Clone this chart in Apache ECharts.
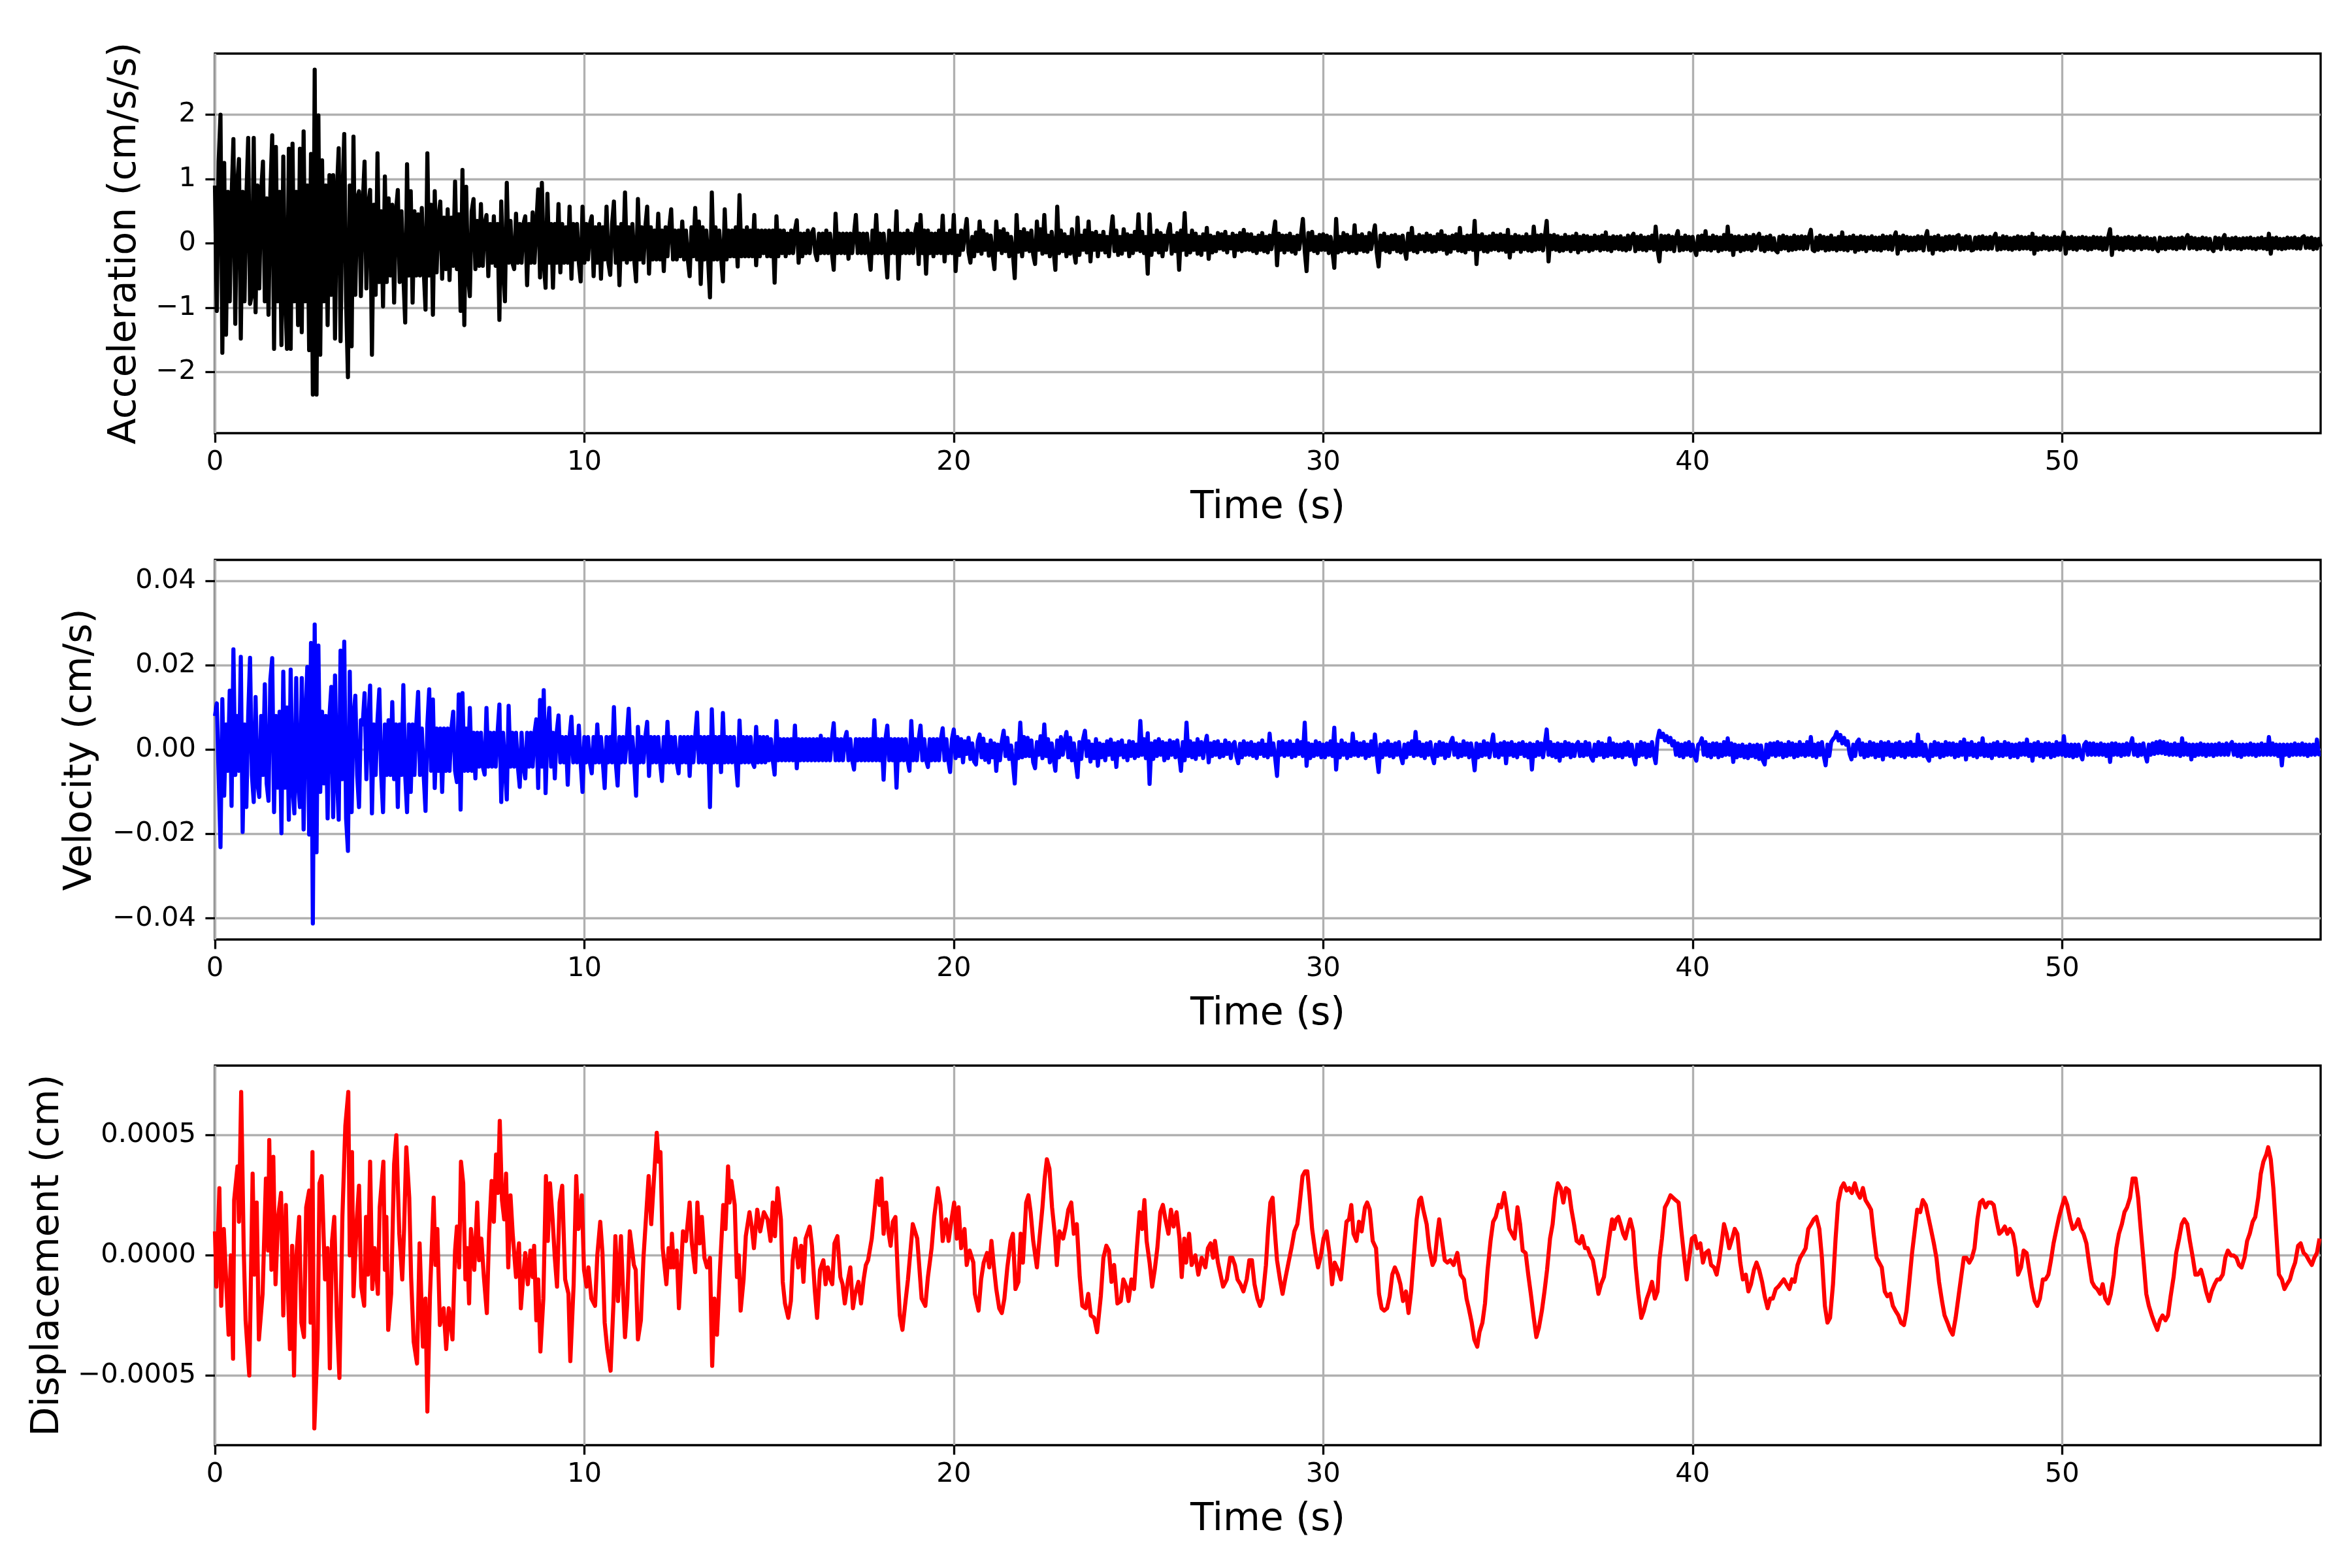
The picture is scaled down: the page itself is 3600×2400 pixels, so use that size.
<!DOCTYPE html>
<html><head><meta charset="utf-8">
<script src="https://cdn.jsdelivr.net/npm/echarts@6/dist/echarts.min.js"></script>
<style>html,body{margin:0;padding:0;background:#fff}#c{width:3600px;height:2400px}</style>
</head><body><div id="c"></div>
<script>
// ---- tick labels ----
const timeTicks = [0, 10, 20, 30, 40, 50];
const accTicks = [-2, -1, 0, 1, 2];
const velTicks = [-0.04, -0.02, 0, 0.02, 0.04];
const dispTicks = [-0.0005, 0, 0.0005];

// ---- acceleration (cm/s/s): one row per second, samples evenly spread inside that second ----
const accRows = [
[.9,-1.05,1.27,2.0,-1.7,1.25,-1.42,.8,-.9,.7,1.62,-1.25,.9,1.31,-1.48,.8,-.9,.7,1.64,-.94],
[-.8,1.64,-1.07,.9,-.7,.8,1.27,-.9,.7,-1.11,.8,1.68,-1.64,1.5,-.9,.8,-1.58,1.35,-.8,-1.64],
[1.47,-1.64,1.55,-.9,.8,-1.27,1.47,-1.38,1.74,-.9,.9,-1.66,1.39,-2.35,2.7,-2.35,1.99,-1.73,1.29,-.9],
[.9,-1.27,1.06,-.8,1.06,-1.48,.8,1.48,-1.52,.7,1.7,-.9,-2.08,.9,-1.6,1.66,-.8,.7,.81,-.82],
[.6,1.27,-.7,.6,.83,-1.73,.6,-.8,1.4,-.6,.5,-.98,1.04,-.6,.7,-.5,.6,-.92,.5,.83],
[-.6,.5,-.5,-1.23,1.23,-.5,.81,-.92,.5,-.5,.45,-.5,.55,-.4,-1.03,1.4,-.5,.6,-1.11,.81],
[-.45,.4,.65,-.55,.4,-.4,.53,-.57,.4,-.35,.96,-.4,.45,-1.05,1.14,-1.27,.88,-.5,-.82,.5],
[.69,-.4,.35,-.35,.61,-.35,.3,.44,-.51,.3,-.3,.42,-.35,.3,-1.19,.65,-.35,-.9,.94,-.3],
[.35,-.3,-.4,.46,-.3,.3,-.3,.3,.42,-.65,.3,-.3,.48,-.3,.3,.84,-.53,.94,-.3,-.69],
[.77,-.3,.3,-.69,.3,-.3,.61,-.45,.3,-.3,.25,-.3,.57,-.55,.3,-.25,.3,-.3,-.59,.57],
[-.3,.3,-.25,.3,.42,-.51,.25,-.3,.3,-.55,.25,-.25,.57,-.3,-.49,.3,.65,-.3,.25,-.65],
[.3,-.25,.79,-.3,.25,-.25,.3,-.25,-.59,.69,-.25,.25,-.3,.25,.57,-.47,.25,-.25,.2,-.25],
[.46,-.25,.2,-.43,.25,-.2,.25,.53,-.25,.2,-.25,.2,-.2,.34,-.25,.2,-.25,-.51,.25,-.2],
[.55,-.25,.34,-.63,.25,-.25,.2,-.25,-.84,.79,-.25,.25,-.25,.2,-.2,-.59,.53,-.25,.2,-.2],
[.2,-.2,.25,-.36,.75,-.2,.2,-.2,.25,-.2,.2,-.2,.44,-.34,.2,-.2,.2,-.15,.2,-.2],
[.2,-.2,.2,-.61,.42,-.2,.2,-.15,.2,-.2,.15,-.15,.2,-.15,.2,.36,-.3,.15,-.2,.15],
[-.15,.2,-.15,.15,.22,-.15,-.26,.15,-.15,.15,-.15,.2,-.15,.15,-.15,-.41,.46,-.15,.15,-.15],
[.15,-.15,.15,-.24,.15,-.15,.15,.44,-.15,.15,-.15,.15,-.15,.15,-.15,-.41,.2,-.15,.44,-.15],
[.15,-.15,.15,-.15,-.53,.2,-.15,.15,-.15,.5,-.55,.15,-.15,.15,-.15,.2,-.15,.15,-.15,.15],
[.3,-.32,.44,-.15,.2,-.47,.2,-.15,.15,-.2,.15,-.15,.2,-.15,.43,-.28,.15,-.15,.2,-.15],
[.44,-.43,.12,-.18,.2,-.1,.16,.38,-.14,-.3,.1,-.2,.17,-.12,.34,-.16,.2,-.1,.14,-.19],
[.12,-.17,-.4,.34,-.1,.19,-.15,.22,-.12,.15,-.2,.1,-.16,-.54,.44,-.13,.18,-.2,.22,-.1],
[.16,-.12,.2,-.18,-.32,.34,-.1,.22,-.16,.44,-.14,.12,-.2,.18,-.1,-.41,.57,-.15,.2,-.12],
[.14,-.2,.1,-.16,.22,-.12,-.3,.4,-.18,.12,-.1,.2,-.14,.34,-.28,.16,-.1,.18,-.2,.12],
[-.1,.18,-.14,.1,-.2,.15,.42,-.12,.2,-.18,.1,-.16,.22,-.1,.14,-.2,.12,-.15,.18,-.1],
[.45,-.12,.18,-.15,.1,-.47,.45,-.18,.12,-.1,.2,-.14,.16,-.2,.12,-.1,.18,.3,-.16,.12],
[-.12,.16,-.41,.2,-.1,.47,-.18,.12,-.14,.2,-.1,.15,-.16,.1,-.18,.14,-.1,.24,-.24,.12],
[-.14,.1,-.12,.16,-.08,.14,-.1,.18,-.14,.1,-.08,.15,-.2,.12,-.1,.16,-.12,.21,-.1,.14],
[-.1,.14,-.12,.09,-.15,.12,-.1,.16,-.12,.1,-.14,.12,-.09,.14,.34,-.34,.15,-.1,.12,-.14],
[.12,-.1,.15,-.13,.1,-.16,.12,-.09,.14,.38,-.12,-.43,.16,-.1,.18,-.12,.1,-.15,.13,-.1],
[.14,-.1,.12,-.15,.1,-.12,-.38,.38,-.14,.1,-.12,.16,-.1,.13,-.14,.1,-.12,.28,-.15,.12],
[-.1,.14,-.12,.1,-.13,.16,-.09,.12,.28,-.14,-.36,.12,-.1,.15,-.12,.1,-.14,.12,-.09,.13],
[-.12,.1,-.14,.12,-.09,-.24,.15,-.1,.24,-.12,.1,-.14,.13,-.09,.11,-.12,.15,-.1,.12,-.13],
[.1,-.12,.14,-.09,.19,-.1,.12,-.16,.1,-.13,.12,-.08,.14,-.11,.24,-.12,.1,-.14,.12,-.09],
[.12,-.1,.35,-.32,.12,-.09,.14,-.12,.1,-.13,.11,-.1,.15,-.09,.12,-.11,.14,-.1,.12,-.13],
[.21,-.22,.1,-.12,.13,-.09,.11,-.13,.1,-.09,.14,-.11,.1,-.12,.26,-.1,.12,-.09,.13,-.11],
[.1,.35,-.28,.12,-.09,.13,-.1,.11,-.12,.09,-.11,.13,-.09,.1,-.12,.11,-.09,.15,-.14,.1],
[-.1,.12,-.09,.11,-.12,.09,-.1,.12,-.08,.1,-.11,.12,-.09,.17,-.1,.09,-.12,.11,-.08,.1],
[-.09,.11,-.1,.08,-.11,.12,-.09,.1,.15,-.12,.1,-.09,.12,-.1,.09,-.11,.1,-.08,.12,-.1],
[.26,-.1,-.28,.12,-.09,.11,-.1,.12,-.09,.1,-.12,.1,.19,-.11,.09,-.1,.12,-.09,.1,-.11],
[.1,-.09,-.18,.11,-.1,.12,-.09,.19,-.1,.09,-.11,.12,-.08,.1,-.12,.09,-.1,.13,-.09,.26],
[-.1,.12,-.18,.1,-.09,.11,-.12,.09,-.1,.12,-.09,.1,-.11,.13,-.08,.1,.15,-.1,.09,-.12],
[.1,-.09,.12,-.1,.08,-.11,-.14,.1,-.09,.12,-.08,.1,-.11,.09,-.1,.12,-.09,.1,-.08,.11],
[-.09,.1,-.08,.11,.21,-.1,-.12,.09,-.1,.12,-.08,.1,-.11,.09,-.1,.12,-.09,.08,-.11,.1],
[-.09,.17,-.1,.09,-.11,.1,-.08,.12,-.13,.09,-.1,.11,-.09,.1,-.12,.09,-.08,.11,-.1,.09],
[-.1,.09,-.11,.12,-.08,.1,-.09,.11,-.1,.09,.17,-.16,.1,-.09,.12,-.08,.1,-.11,.09,-.1],
[.09,-.1,.11,-.08,.1,-.11,.09,.19,-.1,.09,-.16,.1,-.09,.12,-.1,.08,-.11,.1,-.09,.11],
[-.08,.1,-.09,.11,.13,-.1,.08,-.09,.11,-.08,.1,-.11,-.1,.09,-.08,.1,-.09,.11,-.08,.09],
[-.09,.1,-.08,.09,.15,-.1,.08,-.09,.11,-.08,.1,-.09,.08,-.1,.09,-.08,.11,-.09,.1,-.08],
[.09,-.08,.1,-.09,.15,-.16,.09,-.1,.08,-.09,.11,-.08,.09,-.1,.08,-.09,.1,-.08,.09,-.1],
[.08,.17,-.16,.09,-.08,.1,-.09,.08,-.1,.09,-.07,.1,-.08,.09,-.1,.08,-.09,.1,-.07,.09],
[-.08,.09,-.1,.08,-.09,.1,.22,-.18,.09,-.08,.1,-.09,.08,-.1,.09,-.07,.1,-.08,.09,-.1],
[.08,-.07,.11,-.09,.08,-.07,.09,-.08,.07,-.09,.08,-.07,-.12,.09,-.08,.07,-.09,.08,-.07,.09],
[-.08,.07,-.09,.08,-.07,.09,-.08,.07,.13,-.08,.09,-.07,.08,-.09,.07,-.08,.09,-.07,.08,-.09],
[.07,-.08,-.12,.09,-.07,.08,-.09,.07,.13,-.08,.07,-.09,.08,-.07,.09,-.08,.07,-.09,.08,-.07],
[.08,-.07,.09,-.08,.07,-.09,.08,-.07,.09,-.08,.07,-.09,.15,-.16,.08,-.07,.09,-.08,.07,-.09],
[.07,-.08,.09,-.07,.08,-.07,.09,-.08,.07,-.08,.09,.11,-.07,.08,-.07,.09,-.09,.07,-.08,.07],
[-.05]
];

// ---- velocity (cm/s): one row per second ----
const velRows = [
[.008,.011,-.006,-.0231,.012,-.0109,.006,-.005,.014,-.0133,.0238,-.006,.008,-.005,.022,-.0195,.006,-.0136,.008,.0218],
[-.006,-.0124,.0125,-.008,-.0112,.008,-.006,.0155,-.008,-.0121,.0167,.0217,-.0148,.008,-.009,.009,-.0198,.0185,-.009,.01],
[-.0166,.019,-.009,-.0151,.017,-.008,-.0136,.017,-.0189,.008,.0196,-.0201,.0253,-.0412,.0297,-.0243,.0247,-.01,.009,-.008],
[.008,-.0163,.008,.0149,-.016,.0176,-.006,-.0166,.0235,-.007,.0256,-.0163,-.024,.0185,-.0148,.008,.0128,-.006,-.0136,.007],
[.006,.0134,-.007,.006,.0152,-.0151,.006,-.006,.007,.0143,-.006,-.0148,.006,-.006,.007,-.006,.0113,-.007,.006,-.0136],
[.006,-.006,.0153,-.006,-.0148,.006,-.01,.006,-.006,.006,.0137,-.006,.005,-.006,-.0145,.006,.0143,-.005,.0119,-.0091],
[.005,-.005,.005,-.01,.005,-.005,.005,-.005,.005,.009,-.005,-.0077,.0131,-.0142,.0134,-.005,.005,-.005,.0099,-.005],
[.004,-.0068,.004,-.004,.004,-.004,-.0059,.0099,-.004,.004,-.004,.004,-.004,.004,.0107,-.0124,.004,-.004,-.0118,.0104],
[-.004,.004,-.004,.004,-.004,-.0088,.004,-.004,-.0068,.004,-.004,.004,-.004,.004,.0072,-.0091,.0118,-.004,.0141,-.0103],
[.004,.0099,-.004,.004,-.0068,.004,.0081,-.003,.003,-.003,.003,-.0083,.003,.0078,-.003,.003,-.003,.0057,-.003,-.01],
[.003,-.003,.003,-.003,-.0056,.003,-.003,.006,-.003,.003,-.003,-.0091,.003,-.003,.003,-.003,.0101,-.003,-.0085,.003],
[-.003,.003,-.003,.003,.0097,-.003,.003,-.003,-.0109,.0054,-.003,.003,-.003,.003,.0066,-.0062,.003,-.003,.003,-.003],
[.003,-.003,-.0074,.003,-.003,.0066,-.003,.003,-.003,.003,-.003,-.0056,.003,-.003,.003,-.003,.003,-.0062,.003,-.003],
[.003,.0088,-.003,.003,-.003,.003,-.003,.003,-.0136,.0096,-.003,.003,-.003,.003,-.0053,.0087,-.003,.003,-.003,.003],
[-.003,.003,-.003,-.0085,.0069,-.003,.003,-.003,.003,-.003,.003,-.003,-.0041,.0054,-.003,.003,-.003,.003,-.003,.003],
[-.0025,.0025,-.0025,-.0059,.0068,-.0025,.0025,-.0025,.0025,-.0025,.0025,-.0025,.0025,-.0025,.0057,-.0044,.0025,-.0025,.0025,-.0025],
[.0025,-.0025,.0025,-.0025,.0025,-.0025,.0025,-.0025,.0033,-.0025,.0025,-.0025,.0025,-.0025,.0025,.0063,-.0025,.0025,-.0025,.0025],
[-.0025,.0025,.0042,-.0025,.0025,-.0025,-.0047,.0025,-.0025,.0025,-.0025,.0025,-.0025,.0025,-.0025,.0025,-.0025,.007,-.0025,.0025],
[-.0025,.0025,-.0071,.0025,.0057,-.0025,.0025,-.0025,.0025,-.009,.0025,-.0025,.0025,-.0025,.0025,-.0025,-.005,.0068,-.0025,.0025],
[-.0025,.0025,.0057,-.0025,.0025,-.0025,-.0041,.0025,-.0025,.0025,-.0025,.0025,-.0025,.0025,.0051,-.0025,.0025,-.0025,-.0053,.0025],
[.0048,-.002,.003,-.0015,.0025,-.003,.002,-.001,.0028,-.0022,.0015,-.0028,-.0035,.002,.0036,-.0018,.0026,-.0024,.0012,-.003],
[.0022,-.0018,.0015,-.005,.0012,-.0025,.002,.0045,-.0015,.0028,-.0022,.001,-.0032,-.008,.0015,-.002,.0064,-.0018,.003,-.0015],
[.0028,-.0015,.0022,-.003,-.0044,.0018,-.0012,.0032,-.002,.006,-.0015,.0025,-.003,.0015,-.002,-.005,.0022,-.0018,.003,-.0012],
[.002,.0042,-.0018,.0028,-.0025,.0015,-.003,-.0065,.0018,-.0022,.0025,.0045,-.0015,.002,-.0028,.0012,-.002,.0025,-.0038,.0015],
[-.0018,.0012,-.0025,.002,-.0012,.0024,-.0022,.0015,-.0041,.0018,-.0012,.0022,-.0018,.001,-.0025,.002,-.0015,.0018,-.002,.0012],
[-.0015,.0068,-.0012,.0025,-.002,.0039,-.0081,.0015,-.0022,.002,-.0015,.0025,-.0012,.0018,-.0025,.0015,-.002,.0022,-.0012,.0018],
[-.0018,.0022,-.0012,-.005,.0018,-.0025,.0064,-.0015,.002,-.0018,.0015,-.0022,.0025,-.0012,.0018,-.002,.0012,.0033,-.003,.0015],
[-.0015,.0018,-.0012,.002,-.0018,.0012,-.0015,.0022,-.001,.0016,-.002,.0012,.0018,-.0015,-.0032,.0014,-.0018,.002,-.0012,.0015],
[-.0012,.0018,-.0015,.0012,-.002,.0015,-.001,.0022,-.0015,.0012,-.0018,.0038,-.0012,.0015,-.002,-.0062,.0018,-.0012,.002,-.0015],
[.0015,-.0012,.002,-.0018,.0012,-.0015,.0022,-.001,.0018,-.0015,.0064,-.0038,.0015,-.002,.0012,-.0015,.002,-.0012,.0016,-.0018],
[.0012,-.0018,.0015,-.0012,.002,-.0015,.0052,-.0047,.0012,-.0018,.0022,-.0012,.0015,-.002,.0012,-.0015,.0038,-.0012,.0018,-.0015],
[.0015,-.0012,.0018,-.002,.0012,-.0015,.002,-.0012,.0036,-.0015,-.0053,.0012,-.0018,.0015,-.0012,.002,-.0015,.0012,-.0018,.0015],
[-.0012,.0018,-.0015,-.0032,.0012,-.0018,.0015,-.001,.002,-.0015,.0042,-.0012,.0018,-.0015,.0012,-.002,.0015,-.0012,.0018,-.0015],
[-.0032,.0012,-.0015,.0018,-.0012,.0015,-.002,.0012,-.0015,.0018,.0028,-.0012,.0015,-.0018,.0012,-.0015,.002,-.0012,.0015,-.0018],
[.0015,-.0012,-.0049,.0015,-.0018,.0012,-.0015,.002,-.0012,.0015,-.0018,.0012,.0036,-.0015,.0012,-.0018,.0015,-.0012,.0018,-.0032],
[.0015,-.0012,.0018,-.0015,.0012,-.0018,.0015,-.001,.0018,-.0015,.0012,-.0018,.0015,-.0047,.0012,-.0015,.0018,-.0012,.0015,-.0018],
[.0015,.0048,-.0012,.0018,-.0015,.0012,-.0018,.0015,-.0026,.0012,-.0015,.0018,-.0012,.0015,-.0018,.0012,-.0015,.0012,.0018,-.0015],
[.0012,-.0015,.0018,-.0012,.0015,-.0018,-.0026,.0012,-.0015,.0018,-.0012,.0015,-.0018,.0012,-.0015,.0027,-.0012,.0015,-.0018,.0012],
[-.0015,.0012,-.0018,.0015,-.0012,.0018,-.0015,.0012,-.0018,-.0035,.0012,-.0015,.0018,-.0012,.0015,-.0018,.0012,-.0015,.0018,-.0012],
[-.0032,.0025,.0045,.003,.0038,.0022,.0032,.0018,.0028,.001,.002,-.0012,.0015,-.0015,.0012,-.0018,.0015,-.0012,.0018,-.0015],
[.0012,-.0015,-.0026,.0012,.0015,.0027,-.0012,.0018,-.0015,.0012,-.0018,.0015,-.0012,.0015,-.0018,.0012,-.0015,.0018,-.0012,.0027],
[-.0012,.0015,-.0029,.0012,-.0018,.001,-.0015,.0012,-.0018,.0008,-.002,.0012,-.0015,.001,-.0018,.0012,-.0022,.001,-.0025,-.0035],
[.0012,-.0018,.0015,-.0012,.0015,-.0015,.0018,-.0012,.0015,-.0018,.0012,-.0015,.0018,-.0012,.0015,-.0018,.0012,-.0015,.0018,-.0012],
[.0012,-.0015,.0018,-.0012,.003,-.0015,.0012,-.0018,.0015,-.0012,.0018,-.0015,-.0037,.0012,-.0015,.0018,.0025,.003,.0042,.0022],
[.0035,.0015,.0028,.0012,.002,-.001,-.0023,.0012,-.0015,.0018,.0024,-.0012,.0015,-.0018,.0012,-.0015,.0018,-.0012,.0015,-.0018],
[.0012,-.0015,.0018,-.0023,.0015,-.0012,.0018,-.0015,.0012,-.0018,.0015,-.0012,.0018,-.0015,.0012,-.0018,.0015,-.0012,.0018,-.0015],
[.0012,-.0015,.0036,-.0012,.0018,-.0015,.0012,-.0018,-.0026,.0012,-.0015,.0018,-.0012,.0015,-.0018,.0012,-.0015,.0018,-.0012,.0015],
[-.0012,.0015,-.0018,.0012,-.0015,.0018,-.0012,.0024,-.0023,.0015,-.0012,.0018,-.0015,.0012,-.0018,.0015,-.0012,.0027,-.0015,.0012],
[-.0015,.0012,-.002,.0015,-.0012,.0018,-.0015,.0012,-.0015,.0018,-.0012,.0015,-.0018,.0012,-.0015,.0012,-.0018,.0015,-.0012,.0015],
[-.0012,.0024,-.0015,.0012,-.0026,.0015,-.0012,.0018,-.0015,.0012,-.0018,.0015,-.0012,.0015,-.0018,.0012,-.0015,.0018,-.0012,.0015],
[-.0012,.0032,-.0015,.0012,-.0015,.0012,-.0018,.0012,-.0015,.0012,-.0012,-.0023,.0012,.0018,-.0012,.0015,-.0012,.0015,-.0012,.0012],
[-.0012,.0015,-.0012,.0012,-.0015,.0012,-.0029,.0015,-.0012,.0015,-.0012,.0012,-.0015,.0012,-.0012,.0015,-.0012,.0012,.0027,-.0012],
[.0012,-.0015,.0012,-.0012,.0015,-.0012,-.0028,.0012,-.0012,.0015,-.001,.0018,-.0008,.002,-.0008,.0018,-.001,.0015,-.0012,.0012],
[-.0012,.0015,-.0012,.0012,-.0015,.0027,-.0012,.0015,-.0012,.0012,-.0023,.0012,-.0015,.0012,-.0012,.0015,-.0012,.0012,-.0015,.0012],
[-.0012,.0012,-.0015,.0012,-.0012,.0015,-.0012,.0012,-.0012,.0015,-.0012,.0012,.0018,-.0012,.0012,-.0015,.0012,-.0017,.0012,-.0012],
[.0012,-.0012,.0015,-.0012,.0012,-.0015,.0012,-.0012,.0015,-.0012,.0012,-.0012,.003,-.0012,.0015,-.0012,.0012,-.0015,.0012,-.0037],
[.0012,-.0012,.0012,-.0015,.0012,-.0012,.0015,-.0012,.0012,-.0012,.0015,-.0012,.0012,-.0015,.0012,-.0012,.0012,-.0012,.0024,-.0011],
[-.0011]
];

// ---- displacement (cm): [time (s), value] ----
const dispPoints = [
[0,10e-5],[.04,-13e-5],[.12,28e-5],[.17,-21e-5],[.24,11e-5],[.37,-33e-5],[.43,0],[.49,-43e-5],[.52,23e-5],[.61,37e-5],[.65,14e-5],[.71,68e-5],[.78,2e-5],[.83,-27e-5],[.93,-50e-5],[1.02,34e-5],[1.07,-8e-5],[1.13,22e-5],[1.19,-35e-5],[1.29,-16e-5],[1.38,32e-5],[1.44,2e-5],[1.47,48e-5],[1.53,-6e-5],[1.58,41e-5],[1.64,-12e-5],[1.71,16e-5],[1.79,26e-5],[1.85,-25e-5],[1.92,21e-5],[1.99,-22e-5],[2.03,-39e-5],[2.09,4e-5],[2.14,-50e-5],[2.2,-1e-5],[2.28,16e-5],[2.34,-28e-5],[2.41,-34e-5],[2.47,20e-5],[2.55,27e-5],[2.59,-28e-5],[2.64,43e-5],[2.69,-72e-5],[2.78,-36e-5],[2.83,30e-5],[2.89,33e-5],[2.98,-10e-5],[3.05,3e-5],[3.11,-47e-5],[3.17,6e-5],[3.23,16e-5],[3.3,-26e-5],[3.37,-51e-5],[3.45,16e-5],[3.53,54e-5],[3.61,68e-5],[3.65,0],[3.71,43e-5],[3.75,-17e-5],[3.84,15e-5],[3.9,29e-5],[3.96,-13e-5],
[4.04,-21e-5],[4.09,16e-5],[4.14,-8e-5],[4.2,39e-5],[4.26,-14e-5],[4.32,3e-5],[4.41,-16e-5],[4.46,20e-5],[4.56,39e-5],[4.6,-6e-5],[4.64,16e-5],[4.69,-31e-5],[4.77,-16e-5],[4.85,38e-5],[4.91,50e-5],[4.99,9e-5],[5.07,-10e-5],[5.12,11e-5],[5.18,45e-5],[5.26,24e-5],[5.31,-9e-5],[5.38,-36e-5],[5.47,-45e-5],[5.54,5e-5],[5.63,-38e-5],[5.7,-18e-5],[5.75,-65e-5],[5.82,-17e-5],[5.92,24e-5],[5.97,-4e-5],[6.02,11e-5],[6.09,-29e-5],[6.19,-22e-5],[6.26,-39e-5],[6.33,-22e-5],[6.43,-35e-5],[6.5,2e-5],[6.55,12e-5],[6.61,-5e-5],[6.66,39e-5],[6.72,30e-5],[6.78,-10e-5],[6.83,3e-5],[6.88,-20e-5],[6.93,11e-5],[7.02,-6e-5],[7.1,22e-5],[7.15,-2e-5],[7.21,7e-5],[7.28,-9e-5],[7.36,-24e-5],[7.42,9e-5],[7.49,31e-5],[7.55,14e-5],[7.61,42e-5],[7.66,26e-5],[7.71,56e-5],[7.77,23e-5],[7.83,15e-5],[7.88,34e-5],[7.94,-5e-5],
[8,25e-5],[8.06,9e-5],[8.15,-9e-5],[8.23,5e-5],[8.28,-22e-5],[8.33,-12e-5],[8.4,1e-5],[8.47,-12e-5],[8.54,2e-5],[8.6,-9e-5],[8.64,4e-5],[8.7,-27e-5],[8.75,-10e-5],[8.81,-40e-5],[8.89,-18e-5],[8.96,33e-5],[9.01,6e-5],[9.07,30e-5],[9.14,15e-5],[9.2,-1e-5],[9.26,-13e-5],[9.33,22e-5],[9.4,29e-5],[9.48,-10e-5],[9.57,-16e-5],[9.62,-44e-5],[9.71,-12e-5],[9.78,33e-5],[9.84,11e-5],[9.93,25e-5],[9.99,-6e-5],[10.06,-13e-5],[10.11,-5e-5],[10.19,-18e-5],[10.29,-21e-5],[10.35,0],[10.43,14e-5],[10.49,1e-5],[10.55,-28e-5],[10.62,-39e-5],[10.71,-48e-5],[10.79,-19e-5],[10.84,8e-5],[10.91,-19e-5],[10.99,8e-5],[11.04,-12e-5],[11.1,-34e-5],[11.16,-20e-5],[11.23,10e-5],[11.28,4e-5],[11.34,-4e-5],[11.39,-6e-5],[11.45,-35e-5],[11.53,-27e-5],[11.6,-1e-5],[11.67,16e-5],[11.74,33e-5],[11.81,13e-5],[11.88,31e-5],[11.96,51e-5],
[12.01,39e-5],[12.06,43e-5],[12.12,3e-5],[12.22,-12e-5],[12.28,3e-5],[12.34,-5e-5],[12.37,9e-5],[12.42,-5e-5],[12.5,2e-5],[12.56,-22e-5],[12.67,10e-5],[12.75,6e-5],[12.85,22e-5],[12.91,5e-5],[13,-7e-5],[13.06,22e-5],[13.12,5e-5],[13.18,16e-5],[13.25,-1e-5],[13.32,-5e-5],[13.4,-1e-5],[13.46,-46e-5],[13.52,-18e-5],[13.59,-33e-5],[13.67,-6e-5],[13.76,21e-5],[13.82,11e-5],[13.89,37e-5],[13.93,22e-5],[13.98,31e-5],[14.07,21e-5],[14.13,-9e-5],[14.18,0],[14.23,-23e-5],[14.31,-10e-5],[14.37,8e-5],[14.47,18e-5],[14.53,12e-5],[14.59,3e-5],[14.68,19e-5],[14.76,10e-5],[14.86,18e-5],[14.96,15e-5],[15.04,6e-5],[15.1,22e-5],[15.16,8e-5],[15.23,28e-5],[15.32,15e-5],[15.37,-11e-5],[15.43,-20e-5],[15.52,-26e-5],[15.59,-19e-5],[15.64,-2e-5],[15.71,7e-5],[15.79,-5e-5],[15.87,4e-5],[15.93,-11e-5],[15.99,7e-5],
[16.1,12e-5],[16.16,4e-5],[16.24,-15e-5],[16.3,-26e-5],[16.38,-6e-5],[16.47,-2e-5],[16.53,-12e-5],[16.59,-5e-5],[16.66,-10e-5],[16.71,-12e-5],[16.77,5e-5],[16.85,8e-5],[16.93,-9e-5],[16.99,-12e-5],[17.05,-20e-5],[17.14,-10e-5],[17.2,-5e-5],[17.27,-22e-5],[17.33,-16e-5],[17.42,-11e-5],[17.49,-20e-5],[17.56,-10e-5],[17.62,-4e-5],[17.68,-2e-5],[17.78,7e-5],[17.87,21e-5],[17.93,31e-5],[17.99,21e-5],[18.04,32e-5],[18.1,9e-5],[18.17,22e-5],[18.23,10e-5],[18.29,4e-5],[18.35,14e-5],[18.42,16e-5],[18.49,-10e-5],[18.54,-25e-5],[18.61,-31e-5],[18.68,-21e-5],[18.76,-10e-5],
[18.89,13e-5],[19.01,7e-5],[19.13,-18e-5],[19.23,-21e-5],[19.3,-9e-5],[19.4,3e-5],[19.47,16e-5],[19.57,28e-5],[19.64,21e-5],[19.7,6e-5],[19.79,15e-5],[19.86,6e-5],[19.94,15e-5],[20.01,22e-5],[20.08,7e-5],[20.13,20e-5],[20.2,3e-5],[20.29,11e-5],[20.35,-4e-5],[20.43,2e-5],[20.53,-3e-5],[20.57,-16e-5],[20.67,-23e-5],[20.74,-10e-5],[20.81,-3e-5],[20.9,1e-5],[20.96,-5e-5],[21.02,6e-5],[21.08,-4e-5],[21.15,-14e-5],[21.23,-22e-5],[21.3,-24e-5],[21.37,-18e-5],[21.45,-5e-5],[21.54,6e-5],[21.6,9e-5],[21.67,-14e-5],[21.75,-11e-5],[21.81,9e-5],[21.87,-3e-5],[21.96,22e-5],[22.02,25e-5],[22.08,18e-5],[22.15,6e-5],[22.25,-5e-5],[22.32,7e-5],[22.4,20e-5],[22.46,32e-5],[22.52,40e-5],[22.59,36e-5],[22.66,20e-5],[22.74,8e-5],[22.79,-4e-5],[22.86,10e-5],[22.96,7e-5],[23.03,12e-5],[23.1,19e-5],[23.18,22e-5],[23.25,9e-5],[23.33,13e-5],[23.41,-9e-5],[23.48,-21e-5],[23.57,-22e-5],[23.64,-16e-5],[23.71,-25e-5],[23.8,-26e-5],[23.88,-32e-5],[23.98,-17e-5],
[24.05,-1e-5],[24.13,4e-5],[24.2,2e-5],[24.27,-11e-5],[24.34,-4e-5],[24.43,-20e-5],[24.52,-19e-5],[24.59,-10e-5],[24.67,-13e-5],[24.73,-19e-5],[24.81,-10e-5],[24.88,-14e-5],[24.95,2e-5],[25.03,18e-5],[25.1,11e-5],[25.16,23e-5],[25.22,6e-5],[25.3,-3e-5],[25.37,-13e-5],[25.44,-6e-5],[25.51,3e-5],[25.59,18e-5],[25.66,21e-5],[25.73,15e-5],[25.81,9e-5],[25.88,19e-5],[25.95,12e-5],[26.03,18e-5],[26.11,7e-5],[26.17,-9e-5],[26.24,7e-5],[26.29,-3e-5],[26.37,9e-5],[26.44,-4e-5],[26.54,0],[26.62,-8e-5],[26.71,-1e-5],[26.81,-5e-5],[26.88,3e-5],[26.95,5e-5],[27.02,-1e-5],[27.07,6e-5],[27.15,-3e-5],[27.22,-8e-5],[27.29,-13e-5],[27.39,-10e-5],[27.48,-1e-5],[27.54,-1e-5],[27.61,-4e-5],[27.68,-10e-5],[27.76,-12e-5],[27.84,-15e-5],[27.93,-10e-5],
[28,-2e-5],[28.07,-2e-5],[28.14,-12e-5],[28.22,-18e-5],[28.29,-21e-5],[28.36,-18e-5],[28.45,-4e-5],[28.51,11e-5],[28.57,22e-5],[28.63,24e-5],[28.69,10e-5],[28.75,-2e-5],[28.83,-10e-5],[28.9,-16e-5],[28.97,-10e-5],[29.06,-3e-5],[29.14,3e-5],[29.22,10e-5],[29.3,13e-5],[29.36,21e-5],[29.44,33e-5],[29.51,35e-5],[29.57,35e-5],[29.63,25e-5],[29.7,11e-5],[29.79,1e-5],[29.86,-5e-5],[29.94,0],[30.01,7e-5],[30.09,10e-5],[30.17,1e-5],[30.24,-12e-5],[30.31,-3e-5],[30.4,-6e-5],[30.48,-10e-5],[30.56,3e-5],[30.63,14e-5],[30.7,15e-5],[30.76,21e-5],[30.82,9e-5],[30.9,6e-5],[30.97,14e-5],[31.04,10e-5],[31.13,20e-5],[31.19,22e-5],[31.26,19e-5],[31.34,6e-5],[31.43,3e-5],[31.51,-16e-5],[31.58,-22e-5],[31.65,-23e-5],[31.73,-22e-5],[31.8,-17e-5],[31.87,-8e-5],[31.94,-5e-5],
[32.02,-8e-5],[32.09,-12e-5],[32.16,-19e-5],[32.24,-15e-5],[32.31,-24e-5],[32.38,-15e-5],[32.46,1e-5],[32.53,15e-5],[32.6,23e-5],[32.65,24e-5],[32.71,19e-5],[32.8,13e-5],[32.87,3e-5],[32.96,-4e-5],[33.02,-2e-5],[33.09,9e-5],[33.14,15e-5],[33.21,7e-5],[33.29,-2e-5],[33.36,-3e-5],[33.44,-2e-5],[33.53,-4e-5],[33.63,1e-5],[33.72,-8e-5],[33.81,-10e-5],[33.88,-18e-5],[33.94,-22e-5],[34.02,-28e-5],[34.09,-35e-5],[34.17,-38e-5],[34.23,-32e-5],[34.31,-28e-5],[34.38,-20e-5],[34.45,-6e-5],[34.53,6e-5],[34.6,14e-5],[34.67,16e-5],[34.75,21e-5],[34.82,20e-5],[34.9,26e-5],[34.97,19e-5],[35.04,11e-5],[35.11,9e-5],[35.18,7e-5],[35.26,20e-5],[35.33,13e-5],[35.4,2e-5],[35.48,1e-5],[35.55,-8e-5],[35.62,-16e-5],[35.7,-26e-5],[35.77,-34e-5],[35.84,-30e-5],[35.92,-23e-5],[35.99,-15e-5],
[36.06,-6e-5],[36.14,7e-5],[36.21,13e-5],[36.28,24e-5],[36.35,30e-5],[36.43,28e-5],[36.5,22e-5],[36.57,28e-5],[36.65,27e-5],[36.72,19e-5],[36.79,13e-5],[36.86,6e-5],[36.94,5e-5],[37.01,8e-5],[37.09,3e-5],[37.16,3e-5],[37.23,0],[37.3,-2e-5],[37.38,-9e-5],[37.45,-16e-5],[37.52,-12e-5],[37.6,-9e-5],[37.67,-1e-5],[37.74,7e-5],[37.82,15e-5],
[37.87,11e-5],[37.93,15e-5],[37.99,16e-5],[38.05,13e-5],[38.12,9e-5],[38.18,7e-5],[38.24,11e-5],[38.31,15e-5],[38.39,10e-5],[38.46,-5e-5],[38.53,-16e-5],[38.61,-26e-5],[38.68,-23e-5],[38.76,-18e-5],[38.83,-15e-5],[38.9,-11e-5],[38.98,-18e-5],[39.05,-15e-5],[39.1,-2e-5],[39.17,7e-5],[39.25,20e-5],[39.32,22e-5],[39.4,25e-5],[39.47,24e-5],[39.54,23e-5],[39.62,22e-5],[39.69,11e-5],[39.76,1e-5],[39.84,-10e-5],[39.91,-1e-5],[39.98,7e-5],[40.06,8e-5],[40.13,3e-5],[40.21,5e-5],[40.28,-3e-5],[40.35,1e-5],[40.43,2e-5],[40.5,-4e-5],[40.58,-5e-5],[40.65,-8e-5],[40.72,-2e-5],[40.8,7e-5],[40.85,13e-5],[40.92,9e-5],[40.99,3e-5],[41.07,7e-5],[41.14,11e-5],[41.21,9e-5],[41.29,-3e-5],[41.36,-10e-5],[41.44,-8e-5],[41.51,-15e-5],[41.58,-12e-5],[41.66,-6e-5],[41.73,-3e-5],[41.8,-6e-5],[41.88,-11e-5],[41.95,-17e-5],
[42.03,-22e-5],[42.1,-18e-5],[42.17,-18e-5],[42.25,-14e-5],[42.32,-13e-5],[42.42,-11e-5],[42.47,-10e-5],[42.54,-12e-5],[42.62,-14e-5],[42.69,-10e-5],[42.76,-11e-5],[42.84,-4e-5],[42.91,-1e-5],[42.99,1e-5],[43.06,3e-5],[43.13,11e-5],[43.21,13e-5],[43.28,15e-5],[43.35,16e-5],[43.43,11e-5],[43.5,-1e-5],[43.58,-21e-5],[43.65,-28e-5],[43.72,-26e-5],[43.8,-12e-5],[43.87,7e-5],[43.94,22e-5],[44.02,28e-5],[44.09,30e-5],[44.17,27e-5],[44.24,28e-5],[44.31,26e-5],[44.39,30e-5],[44.46,26e-5],[44.53,24e-5],[44.61,28e-5],[44.68,23e-5],[44.76,21e-5],[44.83,19e-5],[44.9,9e-5],[44.98,-1e-5],[45.05,-3e-5],[45.12,-5e-5],[45.2,-15e-5],[45.27,-17e-5],[45.35,-16e-5],[45.42,-21e-5],[45.49,-23e-5],[45.57,-25e-5],[45.64,-28e-5],[45.72,-29e-5],[45.79,-23e-5],[45.86,-12e-5],[45.94,1e-5],
[46.01,10e-5],[46.08,19e-5],[46.16,18e-5],[46.23,23e-5],[46.31,21e-5],[46.38,16e-5],[46.45,11e-5],[46.53,5e-5],[46.6,-1e-5],[46.67,-11e-5],[46.75,-19e-5],[46.82,-25e-5],[46.9,-28e-5],[46.97,-31e-5],[47.04,-33e-5],[47.12,-26e-5],[47.19,-18e-5],[47.26,-10e-5],[47.34,-1e-5],[47.41,-1e-5],[47.49,-3e-5],[47.56,-1e-5],[47.63,3e-5],[47.71,15e-5],[47.78,22e-5],[47.85,23e-5],[47.93,20e-5],[48,22e-5],[48.08,22e-5],[48.15,21e-5],[48.22,15e-5],[48.3,9e-5],[48.37,10e-5],[48.45,12e-5],[48.52,9e-5],[48.59,11e-5],[48.67,9e-5],[48.74,3e-5],[48.81,-8e-5],[48.89,-5e-5],[48.96,2e-5],[49.04,1e-5],[49.11,-6e-5],[49.18,-13e-5],[49.26,-19e-5],[49.33,-21e-5],[49.4,-18e-5],[49.48,-10e-5],[49.55,-10e-5],[49.63,-8e-5],[49.7,-2e-5],[49.77,5e-5],[49.85,11e-5],[49.92,16e-5],[49.99,20e-5],
[50.07,24e-5],[50.14,21e-5],[50.22,15e-5],[50.29,11e-5],[50.36,12e-5],[50.44,15e-5],[50.51,11e-5],[50.58,9e-5],[50.66,5e-5],[50.73,-3e-5],[50.81,-11e-5],[50.88,-13e-5],[50.95,-14e-5],[51.03,-16e-5],[51.1,-12e-5],[51.17,-18e-5],[51.25,-20e-5],[51.32,-16e-5],[51.4,-8e-5],[51.47,3e-5],[51.54,9e-5],[51.62,13e-5],[51.69,18e-5],[51.76,20e-5],[51.84,24e-5],[51.91,32e-5],[51.99,32e-5],[52.06,24e-5],[52.13,11e-5],[52.21,-3e-5],[52.28,-16e-5],[52.35,-21e-5],[52.43,-25e-5],[52.5,-28e-5],[52.58,-31e-5],[52.65,-27e-5],[52.72,-25e-5],[52.8,-27e-5],[52.87,-25e-5],[52.94,-17e-5],[53.02,-9e-5],[53.09,1e-5],[53.17,7e-5],[53.24,13e-5],[53.31,15e-5],[53.39,13e-5],[53.46,6e-5],[53.54,-1e-5],[53.61,-8e-5],[53.68,-8e-5],[53.76,-6e-5],[53.83,-10e-5],[53.9,-15e-5],[53.98,-19e-5],
[54.05,-15e-5],[54.13,-12e-5],[54.2,-10e-5],[54.27,-10e-5],[54.35,-8e-5],[54.42,-1e-5],[54.49,2e-5],[54.57,0],[54.64,0],[54.72,-1e-5],[54.79,-4e-5],[54.86,-5e-5],[54.94,-1e-5],[55.01,6e-5],[55.08,9e-5],[55.16,14e-5],[55.23,16e-5],[55.31,24e-5],[55.38,34e-5],[55.45,39e-5],[55.53,42e-5],[55.58,45e-5],[55.65,40e-5],[55.72,28e-5],[55.8,9e-5],[55.87,-8e-5],[55.95,-10e-5],[56.02,-14e-5],[56.09,-12e-5],[56.17,-10e-5],[56.24,-6e-5],[56.31,-3e-5],[56.39,4e-5],[56.46,5e-5],[56.54,1e-5],[56.61,0],[56.68,-2e-5],[56.76,-4e-5],[56.83,-1e-5],[56.9,1e-5],[56.97,7e-5]
];

// ---- build series data (time of a row sample = second + fraction of that second) ----
function rowsToPairs(rows) {
  const out = [];
  rows.forEach((r, s) => r.forEach((v, j) => out.push([s + j / r.length, v])));
  return out;
}
const accData = rowsToPairs(accRows);
const velData = rowsToPairs(velRows);

const FONT = 'DejaVu Sans';
const PT = 300 / 72;
const fmt = d => v => (v < 0 ? '\u2212' : '') + Math.abs(v).toFixed(d);

const panels = [
  {top: 82,   name: 'Acceleration (cm/s/s)', lim: 2.95,    ticks: accTicks,  dec: 0, gap: 108, color: '#000000', data: accData},
  {top: 857,  name: 'Velocity (cm/s)',       lim: 0.045,   ticks: velTicks,  dec: 2, gap: 176, color: '#0000ff', data: velData},
  {top: 1631, name: 'Displacement (cm)',     lim: 0.00079, ticks: dispTicks, dec: 4, gap: 226, color: '#ff0000', data: dispPoints}
];

const option = {
  animation: false,
  backgroundColor: '#ffffff',
  grid: panels.map(p => ({left: 329, width: 3223, top: p.top, height: 581, show: true,
    borderColor: '#000', borderWidth: 0.8 * PT, backgroundColor: 'transparent', containLabel: false})),
  xAxis: panels.map((p, i) => ({
    type: 'value', gridIndex: i, min: 0, max: 57, position: 'bottom',
    name: 'Time (s)', nameLocation: 'middle', nameGap: 86,
    nameTextStyle: {fontFamily: FONT, fontSize: 14 * PT, color: '#000'},
    axisLine: {show: false, onZero: false},
    axisTick: {show: true, customValues: timeTicks, length: 3.5 * PT, lineStyle: {color: '#000', width: 0.8 * PT}},
    axisLabel: {customValues: timeTicks, margin: 24, fontFamily: FONT, fontSize: 10 * PT, color: '#000'},
    splitLine: {show: true, lineStyle: {color: '#b0b0b0', width: 0.8 * PT}}
  })),
  yAxis: panels.map((p, i) => ({
    type: 'value', gridIndex: i, min: -p.lim, max: p.lim, position: 'left',
    name: p.name, nameLocation: 'middle', nameGap: p.gap, nameRotate: 90,
    nameTextStyle: {fontFamily: FONT, fontSize: 14 * PT, color: '#000'},
    axisLine: {show: false, onZero: false},
    axisTick: {show: true, customValues: p.ticks, length: 3.5 * PT, lineStyle: {color: '#000', width: 0.8 * PT}},
    axisLabel: {customValues: p.ticks, margin: 29, fontFamily: FONT, fontSize: 10 * PT, color: '#000', formatter: fmt(p.dec)},
    splitLine: {show: true, lineStyle: {color: '#b0b0b0', width: 0.8 * PT}}
  })),
  series: panels.map((p, i) => ({
    type: 'line', xAxisIndex: i, yAxisIndex: i, data: p.data,
    showSymbol: false, symbol: 'none', silent: true, clip: true,
    lineStyle: {color: p.color, width: 1.5 * PT, join: 'round'}
  }))
};
const chart = echarts.init(document.getElementById('c'), null, {renderer: 'canvas', width: 3600, height: 2400});
chart.setOption(option);
</script>
</body></html>
